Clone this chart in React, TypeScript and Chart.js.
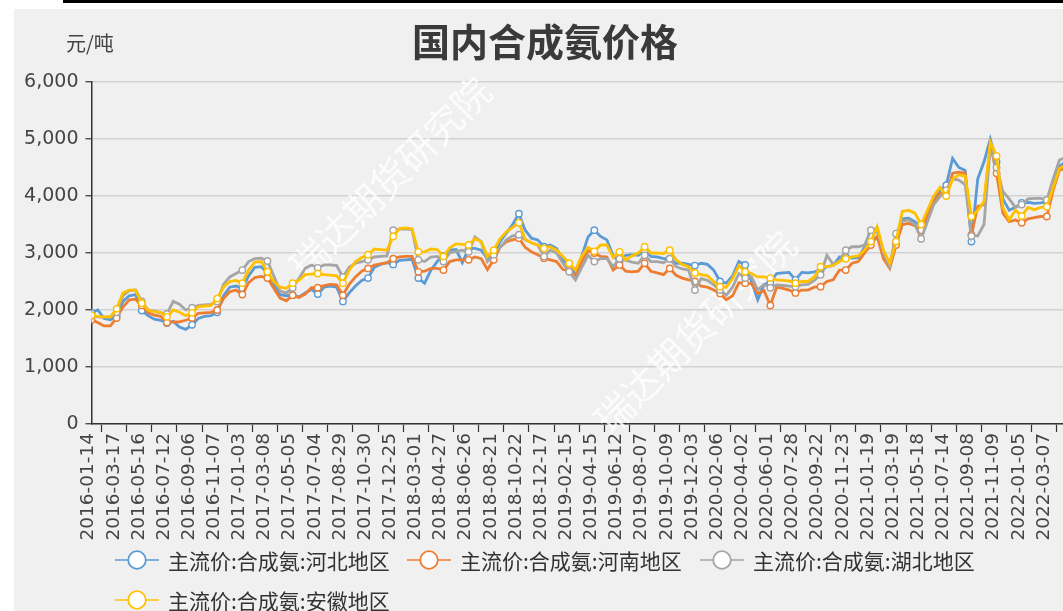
import React, { useEffect, useRef } from "react";
import { Chart, registerables } from "chart.js";

Chart.register(...registerables);

const DATE_LABELS = [
  "2016-01-14", "2016-03-17", "2016-05-16", "2016-07-12", "2016-09-06", "2016-11-07",
  "2017-01-03", "2017-03-08", "2017-05-05", "2017-07-04", "2017-08-29", "2017-10-30",
  "2017-12-25", "2018-03-01", "2018-04-27", "2018-06-26", "2018-08-21", "2018-10-22",
  "2018-12-17", "2019-02-15", "2019-04-15", "2019-06-12", "2019-08-07", "2019-10-09",
  "2019-12-03", "2020-02-06", "2020-04-02", "2020-06-01", "2020-07-28", "2020-09-22",
  "2020-11-23", "2021-01-19", "2021-03-19", "2021-05-18", "2021-07-14", "2021-09-08",
  "2021-11-09", "2022-01-05", "2022-03-07",
];

// four readings per labelled interval
const STEPS_PER_LABEL = 4;

const HEBEI = [
  1950, 2000, 1850, 1830, 1900, 2150, 2250, 2270, 1990, 1900, 1840, 1820,
  1770, 1800, 1700, 1660, 1740, 1850, 1890, 1900, 1960, 2250, 2400, 2420,
  2380, 2600, 2750, 2760, 2650, 2450, 2270, 2250, 2260, 2230, 2300, 2360,
  2280, 2400, 2420, 2400, 2150, 2300, 2420, 2520, 2560, 2750, 2800, 2830,
  2800, 2870, 2880, 2890, 2560, 2470, 2700, 2850, 2950, 3050, 3060, 2830,
  3080, 3080, 3050, 2900, 2970, 3200, 3350, 3500, 3690, 3400, 3260, 3230,
  3110, 3140, 3080, 2880, 2760, 2640, 2950, 3280, 3400, 3290, 3230, 2950,
  2850, 2960, 2970, 2960, 3050, 2940, 2930, 2900, 2900, 2820, 2820, 2800,
  2780, 2820, 2800, 2700, 2500, 2470, 2600, 2850, 2790, 2500, 2180, 2450,
  2480, 2640, 2650, 2660, 2530, 2660, 2650, 2670, 2700, 2760, 2780, 2930,
  2930, 2910, 2920, 3100, 3300, 3400, 3000, 2820, 3200, 3600, 3610, 3550,
  3460, 3700, 3950, 4100, 4190, 4660, 4500, 4450, 3200, 4300, 4600, 5000,
  4600, 3950, 3750, 3800, 3880, 3890, 3870, 3880, 3900, 4200, 4520, 4600,
  4650,
];

const HENAN = [
  1830, 1780, 1720, 1720, 1860, 2050, 2180, 2190, 2080, 1950, 1910, 1890,
  1780, 1790, 1790, 1820, 1860, 1940, 1950, 1960, 2000, 2200, 2320, 2350,
  2270, 2480, 2570, 2590, 2560, 2380, 2210, 2160, 2260, 2220, 2280, 2390,
  2390, 2430, 2450, 2440, 2260, 2450, 2580, 2680, 2730, 2790, 2810, 2830,
  2900, 2930, 2940, 2940, 2670, 2680, 2730, 2730, 2700, 2850, 2880, 2880,
  2880, 2930, 2900, 2710, 2880, 3100, 3200, 3230, 3260, 3100, 3020, 2970,
  2910, 2880, 2850, 2710, 2700, 2610, 2850, 3040, 3000, 2940, 2930, 2700,
  2790, 2680, 2670, 2680, 2820, 2680, 2650, 2620, 2730, 2610, 2560, 2530,
  2500, 2420, 2400, 2350, 2290, 2180, 2250, 2480, 2470, 2460, 2290, 2340,
  2080, 2400, 2380, 2350, 2300, 2350, 2350, 2400, 2410, 2500, 2530, 2700,
  2700, 2820, 2850, 3000, 3140, 3290, 2900, 2730, 3140, 3500, 3520, 3480,
  3400, 3650, 3900, 4050, 4020, 4400, 4420, 4400, 3320, 3820, 3850, 4900,
  4400, 3700, 3550, 3580, 3530, 3600, 3620, 3640, 3640, 4100, 4450, 4500,
  4550,
];

const HUBEI = [
  1900, 1880, 1870, 1880, 1960, 2250, 2340, 2350, 2150, 2000, 1980, 1950,
  1930, 2150, 2100, 2000, 2040, 2080, 2090, 2100, 2150, 2450, 2580, 2640,
  2700, 2850, 2900, 2910, 2860, 2600, 2330, 2300, 2390, 2550, 2730, 2790,
  2740, 2790, 2790, 2780, 2580, 2750, 2820, 2850, 2880, 2930, 2940, 2950,
  3400, 3420, 3420, 3410, 2880, 2850, 2930, 2940, 2850, 3000, 3030, 3050,
  3020, 3280, 3200, 2850, 2970, 3100, 3230, 3300, 3320, 3230, 3180, 3140,
  2940, 3050, 3000, 2820, 2670, 2530, 2750, 2960, 2850, 2900, 2900, 2760,
  2900, 2870, 2840, 2820, 2960, 2850, 2850, 2830, 2900, 2760, 2720, 2700,
  2350, 2550, 2520, 2440, 2350, 2260, 2400, 2640, 2560, 2580, 2350, 2450,
  2390, 2440, 2430, 2420, 2410, 2440, 2450, 2520, 2620, 2960, 2800, 2860,
  3050, 3110, 3110, 3140, 3400, 3430, 3000, 2760, 3340, 3560, 3580, 3500,
  3250, 3550, 3850, 3990, 4100, 4300, 4280, 4200, 3300, 3300, 3500, 4870,
  4500, 4080, 3950, 3800, 3850, 3950, 3960, 3960, 3930, 4300, 4630, 4680,
  4700,
];

const ANHUI = [
  1910, 1890, 1880, 1880, 2020, 2300, 2350, 2350, 2120, 2000, 1970, 1960,
  1880, 2000, 1960, 1900, 1950, 2060, 2070, 2080, 2200, 2400, 2500, 2520,
  2470, 2700, 2840, 2850, 2670, 2500, 2400, 2380, 2470, 2520, 2620, 2630,
  2640, 2620, 2610, 2600, 2470, 2700, 2850, 2920, 2970, 3070, 3060, 3050,
  3290, 3430, 3440, 3420, 3020, 3020, 3070, 3060, 2940, 3090, 3160, 3150,
  3140, 3250, 3200, 2940, 3050, 3250, 3370, 3450, 3530, 3240, 3180, 3140,
  3080, 3110, 3050, 2940, 2820, 2700, 2950, 3100, 3030, 3140, 3140, 2920,
  3020, 2880, 2950, 3000, 3110, 3000, 3000, 2990, 3050, 2880, 2800, 2760,
  2650, 2620, 2600, 2500, 2410, 2400, 2550, 2780, 2670, 2640, 2580, 2580,
  2560, 2530, 2520, 2510, 2470, 2500, 2500, 2580, 2760, 2760, 2780, 2850,
  2900, 2930, 2950, 3050, 3200, 3460, 3050, 2820, 3200, 3730, 3750, 3700,
  3500, 3750, 4000, 4150, 4000, 4300, 4370, 4350, 3640, 3750, 3900, 4950,
  4700, 3800, 3580, 3750, 3650, 3800, 3760, 3800, 3810, 4150, 4480, 4550,
  4600,
];

const SERIES_NAMES = [
  "主流价:合成氨:河北地区",
  "主流价:合成氨:河南地区",
  "主流价:合成氨:湖北地区",
  "主流价:合成氨:安徽地区",
];
const SERIES_VALUES = [HEBEI, HENAN, HUBEI, ANHUI];
const SERIES_COLORS = ["#5B9BD5", "#ED7D31", "#A5A5A5", "#FFC000"];
const SERIES_ORDER = [3, 2, 1, 0];

const Y_TICKS_STEP = 1000;
const TITLE = "国内合成氨价格";
const UNIT = "元/吨";
const WATERMARK = "瑞达期货研究院";

const FONT_NUM = '"DejaVu Sans", "Noto Sans CJK SC", sans-serif';
const FONT_CJK = '"Noto Sans CJK SC", "Noto Sans", sans-serif';

function LegendIcon({ color }: { color: string }) {
  return (
    <svg width="44" height="22" style={{ display: "block" }}>
      <line x1="0" y1="11" x2="44" y2="11" stroke={color} strokeWidth="1.6" />
      <circle cx="22" cy="11" r="8.8" fill="#fff" stroke={color} strokeWidth="1.8" />
    </svg>
  );
}

export default function App() {
  const ref = useRef<HTMLCanvasElement | null>(null);

  useEffect(() => {
    if (!ref.current) return;
    const watermark = {
      id: "watermark",
      beforeDatasetsDraw(chart: any) {
        const c = chart.ctx;
        c.save();
        c.font = `38px ${FONT_CJK}`;
        c.fillStyle = "rgba(255,255,255,0.8)";
        c.textAlign = "center";
        c.textBaseline = "middle";
        const spots = [
          [376, 169],
          [681, 323],
        ];
        for (const [x, y] of spots) {
          c.save();
          c.translate(x, y);
          c.rotate(-Math.PI / 4);
          c.fillText(WATERMARK, 0, 0);
          c.restore();
        }
        c.restore();
      },
    };

    const datasets = SERIES_NAMES.map((name, s) => ({
      label: name,
      data: SERIES_VALUES[s].map((v, i) => ({ x: i / STEPS_PER_LABEL, y: v })),
      borderColor: SERIES_COLORS[s],
      backgroundColor: "#ffffff",
      borderWidth: 2.8,
      tension: 0,
      fill: false,
      order: SERIES_ORDER[s],
      pointRadius: (ctx: any) => (ctx.dataIndex % STEPS_PER_LABEL === 0 ? 3.2 : 0),
      pointBorderWidth: 1.4,
      pointBorderColor: SERIES_COLORS[s],
      pointBackgroundColor: "#ffffff",
      pointHoverRadius: 0,
    }));

    const chart = new Chart(ref.current, {
      type: "line",
      data: { datasets },
      options: {
        animation: false,
        responsive: false,
        events: [],
        layout: { padding: { top: 73, right: 10, left: 0, bottom: 0 } },
        plugins: {
          legend: { display: false },
          tooltip: { enabled: false },
          title: { display: false },
        },
        scales: {
          x: {
            type: "linear",
            min: 0,
            max: 39,
            afterBuildTicks: (scale: any) => {
              scale.ticks = DATE_LABELS.map((_, i) => ({ value: i + 0.4 }));
            },
            afterFit: (scale: any) => {
              scale.height = 187;
            },
            grid: {
              drawOnChartArea: false,
              drawTicks: true,
              tickLength: 8,
              tickColor: "#333333",
              tickWidth: 1.2,
            },
            border: { color: "#333333", width: 1.5 },
            ticks: {
              autoSkip: false,
              minRotation: 90,
              maxRotation: 90,
              labelOffset: -13,
              padding: 1,
              color: "#444444",
              font: { family: FONT_NUM, size: 18.5 },
              callback: (_v: any, i: number) => DATE_LABELS[i],
            },
          },
          y: {
            min: 0,
            max: 6000,
            afterFit: (scale: any) => {
              scale.width = 77.5;
            },
            grid: {
              color: "#d2d2d2",
              lineWidth: 1.5,
              tickColor: "#333333",
              tickLength: 6,
              tickWidth: 1.2,
            },
            border: { color: "#333333", width: 1.5 },
            ticks: {
              stepSize: Y_TICKS_STEP,
              padding: 7,
              color: "#444444",
              font: { family: FONT_NUM, size: 19 },
            },
          },
        },
      },
      plugins: [watermark],
    });
    return () => chart.destroy();
  }, []);

  const rows = [
    [0, 1, 2],
    [3],
  ];
  const itemLefts = [115, 407, 700];

  return (
    <>
      <div
        style={{
          position: "absolute",
          left: 63,
          top: 0,
          width: 1000,
          height: 3,
          background: "#000",
        }}
      />
      <div
        style={{
          position: "absolute",
          left: 14,
          top: 9,
          width: 1049,
          height: 602,
          background: "#f0f0f0",
          overflow: "hidden",
        }}
      >
        <canvas
          ref={ref}
          width={1068}
          height={602}
          style={{ position: "absolute", left: 0, top: 0, width: 1068, height: 602 }}
        />
        <div
          style={{
            position: "absolute",
            left: 531 - 300,
            top: 9,
            width: 600,
            textAlign: "center",
            font: `bold 38px ${FONT_CJK}`,
            lineHeight: "44px",
            color: "#3a3a3a",
          }}
        >
          {TITLE}
        </div>
        <div
          style={{
            position: "absolute",
            left: 52,
            top: 22,
            font: `20px ${FONT_CJK}`,
            lineHeight: "24px",
            color: "#444",
          }}
        >
          {UNIT}
        </div>
        {rows.map((row, r) =>
          row.map((s, k) => (
            <div
              key={s}
              style={{
                position: "absolute",
                left: itemLefts[k] - 14,
                top: 560 - 9 - 11 + r * 40,
                height: 22,
                display: "flex",
                alignItems: "center",
                whiteSpace: "nowrap",
              }}
            >
              <LegendIcon color={SERIES_COLORS[s]} />
              <span
                style={{
                  marginLeft: 9,
                  font: `21px ${FONT_CJK}`,
                  lineHeight: "22px",
                  color: "#333",
                }}
              >
                {SERIES_NAMES[s]}
              </span>
            </div>
          ))
        )}
      </div>
    </>
  );
}
